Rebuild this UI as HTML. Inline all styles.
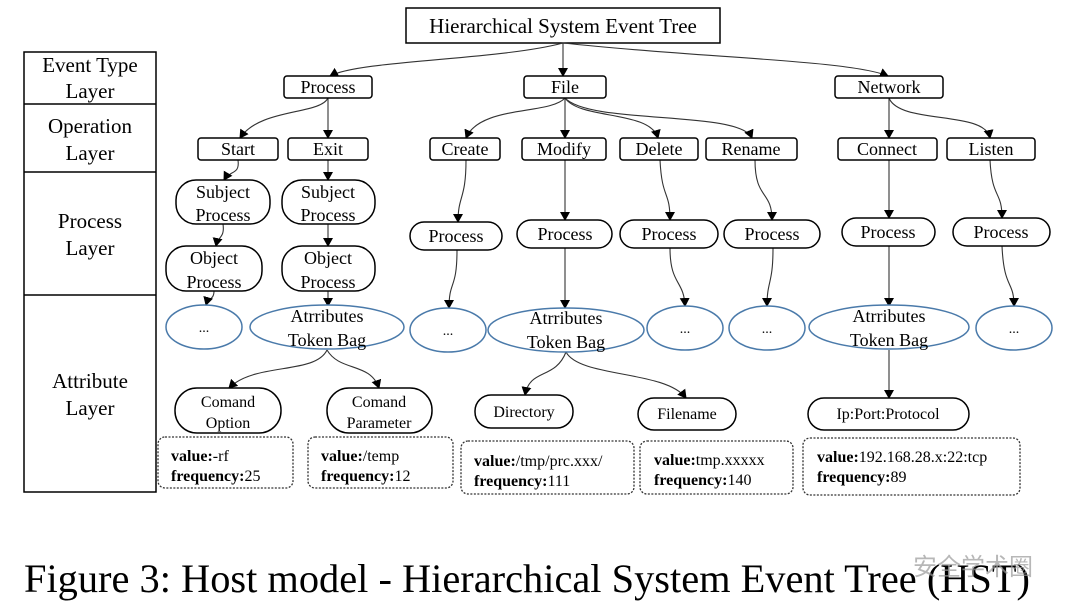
<!DOCTYPE html>
<html><head><meta charset="utf-8"><style>
html,body{margin:0;padding:0;background:#fff;}
svg{display:block;font-family:"Liberation Serif",serif;}
</style></head><body>
<svg width="1080" height="610" viewBox="0 0 1080 610" xmlns="http://www.w3.org/2000/svg">
<defs>
<marker id="a" markerWidth="10" markerHeight="10" refX="8" refY="5" orient="auto" markerUnits="userSpaceOnUse">
<path d="M0,0 L9,5 L0,10 z" fill="#000"/></marker>
</defs>
<rect width="1080" height="610" fill="#fff"/>
<!-- left table -->
<g fill="none" stroke="#000" stroke-width="1.5">
<rect x="24" y="52" width="132" height="440"/>
<line x1="24" y1="104" x2="156" y2="104"/>
<line x1="24" y1="172" x2="156" y2="172"/>
<line x1="24" y1="295" x2="156" y2="295"/>
</g>
<g font-size="21" text-anchor="middle" fill="#000">
<text x="90" y="72">Event Type</text><text x="90" y="98">Layer</text>
<text x="90" y="133">Operation</text><text x="90" y="160">Layer</text>
<text x="90" y="228">Process</text><text x="90" y="255">Layer</text>
<text x="90" y="388">Attribute</text><text x="90" y="415">Layer</text>
</g>
<!-- title -->
<rect x="406" y="8" width="314" height="35" fill="none" stroke="#000" stroke-width="1.5"/>
<text x="563" y="33" font-size="21" text-anchor="middle">Hierarchical System Event Tree</text>

<!-- connectors -->
<g fill="none" stroke="#333" stroke-width="1.1" marker-end="url(#a)">
<path d="M563,43 C500,60 360,60 330,76"/>
<path d="M563,43 L563,76"/>
<path d="M563,43 C700,58 850,60 888,76"/>
<path d="M328,98 C320,115 260,108 240,138"/>
<path d="M328,98 L328,138"/>
<path d="M565,98 C550,115 480,105 466,138"/>
<path d="M565,98 L565,138"/>
<path d="M565,98 C580,120 650,110 658,138"/>
<path d="M565,98 C590,125 740,110 752,138"/>
<path d="M889,98 L889,138"/>
<path d="M889,98 C900,125 985,110 990,138"/>
<path d="M238,160 C240,175 230,170 224,180"/>
<path d="M328,160 L328,180"/>
<path d="M466,160 C466,200 458,195 458,222"/>
<path d="M565,160 L565,220"/>
<path d="M660,160 C662,200 670,190 670,220"/>
<path d="M755,160 C755,200 772,190 772,220"/>
<path d="M889,160 L889,218"/>
<path d="M990,160 C992,200 1002,190 1002,218"/>
<path d="M223,224 C225,238 218,236 216,246"/>
<path d="M328,224 L328,246"/>
<path d="M214,291 C214,300 208,298 206,305"/>
<path d="M328,291 L328,306"/>
<path d="M457,250 C457,290 449,280 449,308"/>
<path d="M565,248 L565,308"/>
<path d="M670,248 C670,285 684,280 685,306"/>
<path d="M773,248 C773,285 767,280 767,306"/>
<path d="M889,246 L889,306"/>
<path d="M1002,246 C1004,290 1014,280 1014,306"/>
<path d="M327,350 C315,375 255,362 229,388"/>
<path d="M327,350 C340,372 370,362 379,388"/>
<path d="M566,352 C555,380 530,368 525,395"/>
<path d="M566,352 C580,378 665,370 686,398"/>
<path d="M889,350 L889,398"/>
</g>

<!-- rectangles op/type -->
<g fill="#fff" stroke="#000" stroke-width="1.5">
<rect x="284" y="76" width="88" height="22" rx="3"/>
<rect x="524" y="76" width="82" height="22" rx="3"/>
<rect x="835" y="76" width="108" height="22" rx="3"/>
<rect x="198" y="138" width="80" height="22" rx="3"/>
<rect x="288" y="138" width="80" height="22" rx="3"/>
<rect x="430" y="138" width="70" height="22" rx="3"/>
<rect x="522" y="138" width="84" height="22" rx="3"/>
<rect x="620" y="138" width="78" height="22" rx="3"/>
<rect x="706" y="138" width="91" height="22" rx="3"/>
<rect x="838" y="138" width="99" height="22" rx="3"/>
<rect x="947" y="138" width="88" height="22" rx="3"/>
<!-- process pills -->
<rect x="176" y="180" width="94" height="44" rx="20"/>
<rect x="282" y="180" width="93" height="44" rx="20"/>
<rect x="166" y="246" width="96" height="45" rx="20"/>
<rect x="282" y="246" width="93" height="45" rx="20"/>
<rect x="410" y="222" width="92" height="28" rx="14"/>
<rect x="517" y="220" width="95" height="28" rx="14"/>
<rect x="620" y="220" width="98" height="28" rx="14"/>
<rect x="724" y="220" width="96" height="28" rx="14"/>
<rect x="842" y="218" width="93" height="28" rx="14"/>
<rect x="953" y="218" width="97" height="28" rx="14"/>
<!-- attribute pills -->
<rect x="175" y="388" width="106" height="45" rx="22"/>
<rect x="327" y="388" width="105" height="45" rx="22"/>
<rect x="475" y="395" width="98" height="33" rx="16"/>
<rect x="638" y="398" width="98" height="32" rx="16"/>
<rect x="808" y="398" width="161" height="32" rx="16"/>
</g>
<!-- ellipses -->
<g fill="#fff" stroke="#4a7aaa" stroke-width="1.5">
<ellipse cx="204" cy="327" rx="38" ry="22"/>
<ellipse cx="327" cy="327" rx="77" ry="22"/>
<ellipse cx="448" cy="330" rx="38" ry="22"/>
<ellipse cx="566" cy="330" rx="78" ry="22"/>
<ellipse cx="685" cy="328" rx="38" ry="22"/>
<ellipse cx="767" cy="328" rx="38" ry="22"/>
<ellipse cx="889" cy="327" rx="80" ry="22"/>
<ellipse cx="1014" cy="328" rx="38" ry="22"/>
</g>
<!-- dotted boxes -->
<g fill="#fff" stroke="#333" stroke-width="1.3" stroke-dasharray="2,1.5">
<rect x="158" y="437" width="135" height="51" rx="7"/>
<rect x="308" y="437" width="145" height="51" rx="7"/>
<rect x="461" y="441" width="173" height="53" rx="7"/>
<rect x="640" y="441" width="153" height="53" rx="7"/>
<rect x="803" y="438" width="217" height="57" rx="7"/>
</g>

<g font-size="18" text-anchor="middle" fill="#000">
<text x="328" y="93">Process</text>
<text x="565" y="93">File</text>
<text x="889" y="93">Network</text>
<text x="238" y="155">Start</text>
<text x="328" y="155">Exit</text>
<text x="465" y="155">Create</text>
<text x="564" y="155">Modify</text>
<text x="659" y="155">Delete</text>
<text x="751" y="155">Rename</text>
<text x="887" y="155">Connect</text>
<text x="991" y="155">Listen</text>
<text x="223" y="198">Subject</text><text x="223" y="221">Process</text>
<text x="328" y="198">Subject</text><text x="328" y="221">Process</text>
<text x="214" y="264">Object</text><text x="214" y="288">Process</text>
<text x="328" y="264">Object</text><text x="328" y="288">Process</text>
<text x="456" y="242">Process</text>
<text x="565" y="240">Process</text>
<text x="669" y="240">Process</text>
<text x="772" y="240">Process</text>
<text x="888" y="238">Process</text>
<text x="1001" y="238">Process</text>
<text x="327" y="322">Atrributes</text><text x="327" y="346">Token Bag</text>
<text x="566" y="324">Atrributes</text><text x="566" y="348">Token Bag</text>
<text x="889" y="322">Atrributes</text><text x="889" y="346">Token Bag</text>
</g>
<g font-size="14" text-anchor="middle">
<text x="204" y="332">...</text><text x="448" y="335">...</text>
<text x="685" y="333">...</text><text x="767" y="333">...</text>
<text x="1014" y="333">...</text>
</g>
<g font-size="16" text-anchor="middle">
<text x="228" y="407">Comand</text><text x="228" y="428">Option</text>
<text x="379" y="407">Comand</text><text x="379" y="428">Parameter</text>
<text x="524" y="417">Directory</text>
<text x="687" y="419">Filename</text>
<text x="888" y="419">Ip:Port:Protocol</text>
</g>
<g font-size="16">
<text x="171" y="461"><tspan font-weight="bold">value:</tspan>-rf</text>
<text x="171" y="481"><tspan font-weight="bold">frequency:</tspan>25</text>
<text x="321" y="461"><tspan font-weight="bold">value:</tspan>/temp</text>
<text x="321" y="481"><tspan font-weight="bold">frequency:</tspan>12</text>
<text x="474" y="466"><tspan font-weight="bold">value:</tspan>/tmp/prc.xxx/</text>
<text x="474" y="486"><tspan font-weight="bold">frequency:</tspan>111</text>
<text x="654" y="465"><tspan font-weight="bold">value:</tspan>tmp.xxxxx</text>
<text x="654" y="485"><tspan font-weight="bold">frequency:</tspan>140</text>
<text x="817" y="462"><tspan font-weight="bold">value:</tspan>192.168.28.x:22:tcp</text>
<text x="817" y="482"><tspan font-weight="bold">frequency:</tspan>89</text>
</g>
<text x="24" y="592" font-size="40" textLength="1006" lengthAdjust="spacingAndGlyphs">Figure 3: Host model - Hierarchical System Event Tree (HST)</text>
<text x="913" y="575" font-size="24" fill="#999" font-family="'Liberation Sans','Noto Sans CJK SC',sans-serif" opacity="0.7">安全学术圈</text>
</svg>
</body></html>
